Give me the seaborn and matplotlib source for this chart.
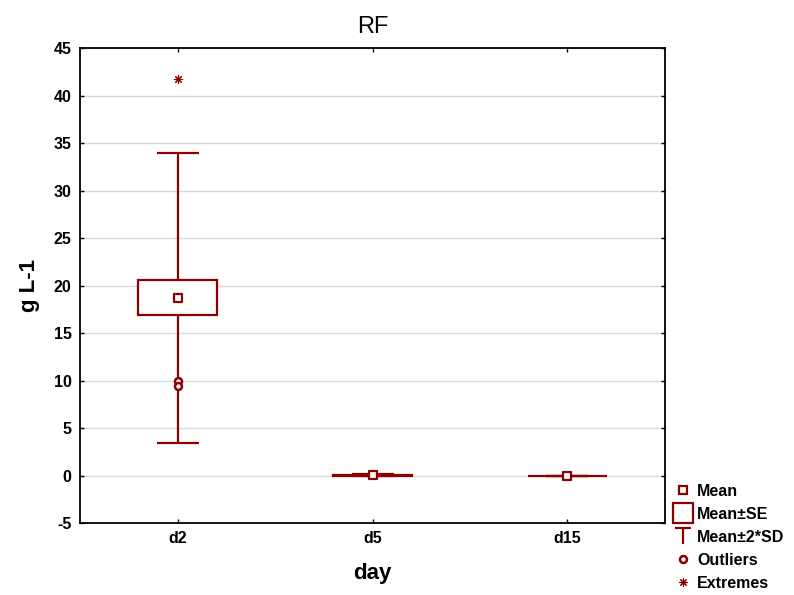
import numpy as np
import pandas as pd
import matplotlib
matplotlib.use("Agg")
import matplotlib.pyplot as plt
from matplotlib.lines import Line2D
from matplotlib.path import Path
import seaborn as sns

# Summary statistics per sampling day
days = ["d2", "d5", "d15"]
means = [18.7, 0.02, 0.0]
se = [1.85, 0.03, 0.0]
two_sd = [15.25, 0.12, 0.0]

# Outlying and extreme observations
outlier_day = ["d2", "d2"]
outlier_val = [9.9, 9.4]
extreme_day = ["d2"]
extreme_val = [41.7]

yticks = [-5, 0, 5, 10, 15, 20, 25, 30, 35, 40, 45]

RED = "#8b0000"

sns.set_theme(style="white")
plt.rcParams["font.family"] = ["Liberation Sans", "DejaVu Sans"]
plt.rcParams["axes.unicode_minus"] = False
plt.rcParams["text.color"] = "black"
plt.rcParams["axes.labelcolor"] = "black"

fig = plt.figure(figsize=(7.94, 5.95), dpi=100)
ax = fig.add_axes([0.1008, 0.121, 0.7367, 0.7983])

stats = pd.DataFrame({"day": days, "mean": means, "se": se, "sd2": two_sd})
pos = np.arange(len(days))

# Mean ± 2*SD whiskers
ax.errorbar(pos, stats["mean"], yerr=stats["sd2"], fmt="none", ecolor=RED,
            elinewidth=1.6, capsize=14.8, capthick=1.6, zorder=2)

# Mean ± SE boxes
ax.bar(pos, 2 * stats["se"], bottom=stats["mean"] - stats["se"], width=0.41,
       color="white", edgecolor=RED, linewidth=1.6, zorder=3)

# Means
sns.stripplot(data=stats, x="day", y="mean", order=days, jitter=False, ax=ax,
              marker="s", size=5.5, color="white", edgecolor=RED, linewidth=1.6,
              zorder=4)

# Outliers
out_df = pd.DataFrame({"day": outlier_day, "val": outlier_val})
sns.stripplot(data=out_df, x="day", y="val", order=days, jitter=False, ax=ax,
              marker="o", size=5, color="white", edgecolor=RED, linewidth=1.8,
              zorder=4)

# Extremes
ext_df = pd.DataFrame({"day": extreme_day, "val": extreme_val})
sns.stripplot(data=ext_df, x="day", y="val", order=days, jitter=False, ax=ax,
              marker=(8, 2, 0), size=6, color=RED, linewidth=0.8, zorder=4)

ax.set_xlim(-0.5, 2.5)
ax.set_ylim(-5, 45)
ax.set_yticks(yticks)
ax.set_xticks(pos)
ax.set_xticklabels(days)
ax.yaxis.grid(True, color="#d9d9d9", linewidth=1.0)
ax.xaxis.grid(False)
ax.set_axisbelow(True)

for s in ax.spines.values():
    s.set_visible(True)
    s.set_color("black")
    s.set_linewidth(1.3)

ax.tick_params(axis="both", which="major", direction="in", length=3, width=1,
               colors="black", top=True, right=True, left=True, bottom=True,
               labelsize=11.5, pad=6)
for lab in ax.get_xticklabels() + ax.get_yticklabels():
    lab.set_fontweight("bold")

ax.set_title("RF", fontsize=17, pad=11, color="black")
ax.set_xlabel("day", fontsize=16, fontweight="bold", labelpad=12)
ax.set_ylabel("g L-1", fontsize=16, fontweight="bold", labelpad=10)

# Legend glyphs
ibeam = Path([(-1, 1), (1, 1), (0, 1), (0, -1.0)],
             [Path.MOVETO, Path.LINETO, Path.MOVETO, Path.LINETO])
handles = [
    Line2D([], [], linestyle="none", marker="s", markersize=5.5,
           markerfacecolor="white", markeredgecolor=RED, markeredgewidth=1.6),
    Line2D([], [], linestyle="none", marker="s", markersize=15,
           markerfacecolor="white", markeredgecolor=RED, markeredgewidth=1.6),
    Line2D([], [], linestyle="none", marker=ibeam, markersize=11,
           markerfacecolor="none", markeredgecolor=RED, markeredgewidth=1.6),
    Line2D([], [], linestyle="none", marker="o", markersize=5,
           markerfacecolor="white", markeredgecolor=RED, markeredgewidth=1.8),
    Line2D([], [], linestyle="none", marker=(8, 2, 0), markersize=6,
           markeredgecolor=RED, markeredgewidth=0.8),
]
labels = ["Mean", "Mean±SE", "Mean±2*SD", "Outliers", "Extremes"]
leg = fig.legend(handles, labels, loc="lower left",
                 bbox_to_anchor=(0.847, 0.0035), frameon=False,
                 prop={"weight": "bold", "size": 11.5},
                 handlelength=1.0, handletextpad=0.4, labelspacing=0.5,
                 borderaxespad=0.0, borderpad=0.15)

fig.savefig("out.png", dpi=100)
